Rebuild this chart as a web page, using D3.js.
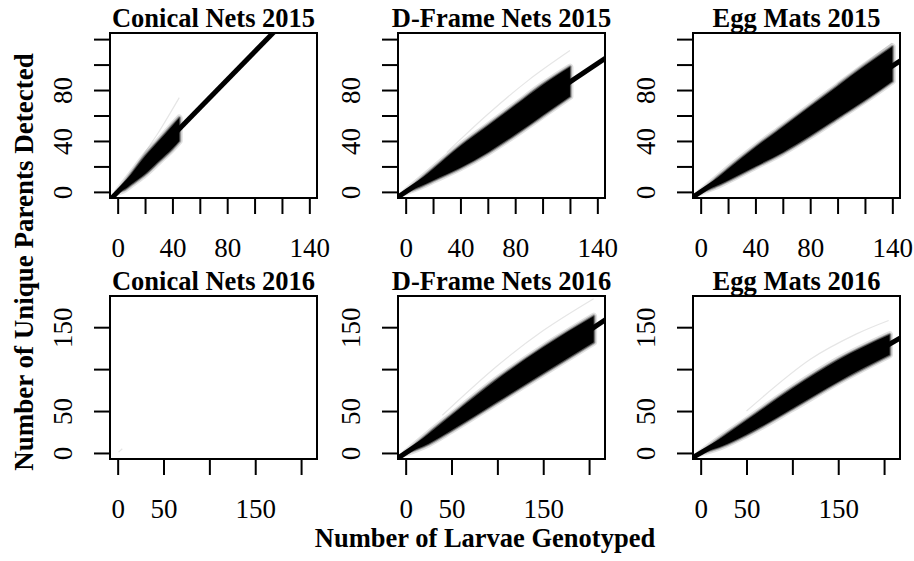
<!DOCTYPE html>
<html>
<head>
<meta charset="utf-8">
<script src="https://cdn.jsdelivr.net/npm/d3@7"></script>
<style>
  html, body { margin: 0; padding: 0; background: #fff; }
  svg { display: block; }
</style>
</head>
<body>
<svg id="chart" width="914" height="561"></svg>
<script>
// ---------------- DATA ----------------
const panelTitles = ["Conical Nets 2015", "D-Frame Nets 2015", "Egg Mats 2015",
                     "Conical Nets 2016", "D-Frame Nets 2016", "Egg Mats 2016"];

// axis limits (before R-style 4% expansion)
const xLim2015 = [0, 140];
const yLim2015 = [0, 120];
const xLim2016 = [0, 209];
const yLim2016 = [0, 180];

// ticks and tick labels
const xTicks2015 = [0, 20, 40, 60, 80, 100, 120, 140];
const xTickLabels2015 = [0, 40, 80, 140];
const yTicks2015 = [0, 20, 40, 60, 80, 100, 120];
const yTickLabels2015 = [0, 40, 80];
const xTicks2016 = [0, 50, 100, 150, 200];
const xTickLabels2016 = [0, 50, 150];
const yTicks2016 = [0, 50, 100, 150];
const yTickLabels2016 = [0, 50, 150];

// envelope of the bootstrap rarefaction curves (larvae genotyped -> upper / lower unique parents)
const conical2015X     = [0, 5, 10, 20, 30, 40, 45];
const conical2015Upper = [0, 7, 14, 28, 40, 52, 58];
const conical2015Lower = [0, 2, 6, 14, 24, 34, 40];

const dframe2015X     = [0, 10, 20, 40, 60, 80, 100, 120];
const dframe2015Upper = [0, 9, 18, 36, 52, 68, 84, 98];
const dframe2015Lower = [0, 4, 9, 19, 31, 45, 60, 75];

const egg2015X     = [0, 10, 20, 40, 60, 80, 100, 120, 140];
const egg2015Upper = [0, 9, 18, 35, 51, 67, 83, 99, 114];
const egg2015Lower = [0, 4, 9, 20, 31, 44, 58, 72, 87];

const conical2016X     = [];
const conical2016Upper = [];
const conical2016Lower = [];

const dframe2016X     = [0, 25, 50, 100, 150, 205];
const dframe2016Upper = [0, 23, 45, 88, 126, 163];
const dframe2016Lower = [0, 11, 27, 61, 95, 132];

const egg2016X     = [0, 25, 50, 100, 150, 206];
const egg2016Upper = [0, 20, 39, 77, 111, 141];
const egg2016Lower = [0, 9, 22, 53, 85, 117];

// slope of the thick expected-accumulation line through the origin
const lineSlopes = [1.10, 0.72, 0.706, null, 0.73, 0.63];

// faint outlying single curves [larvae, parents]
const conical2015Faint = [[10, 14], [20, 31], [30, 47], [45, 74]];
const dframe2015Faint  = [[30, 31], [60, 61], [90, 88], [120, 111]];
const egg2015Faint     = [[100, 85], [120, 101], [140, 117]];
const conical2016Faint = [[1, 1], [5, 5]];
const dframe2016Faint  = [[40, 45], [100, 104], [150, 146], [205, 184]];
const egg2016Faint     = [[50, 50], [120, 112], [170, 142], [205, 158]];

// ---------------- LAYOUT ----------------
const svg = d3.select("#chart");
const FONT = "'Liberation Serif', 'Times New Roman', Times, serif";
const colBoxes = [[110, 317], [398, 605], [693, 900]];
const rowBoxes = [[33, 198], [296, 459]];

function expand(lim) { const d = (lim[1] - lim[0]) * 0.04; return [lim[0] - d, lim[1] + d]; }

const panels = [
  { x: conical2015X, up: conical2015Upper, lo: conical2015Lower, faint: conical2015Faint },
  { x: dframe2015X,  up: dframe2015Upper,  lo: dframe2015Lower,  faint: dframe2015Faint },
  { x: egg2015X,     up: egg2015Upper,     lo: egg2015Lower,     faint: egg2015Faint },
  { x: conical2016X, up: conical2016Upper, lo: conical2016Lower, faint: conical2016Faint },
  { x: dframe2016X,  up: dframe2016Upper,  lo: dframe2016Lower,  faint: dframe2016Faint },
  { x: egg2016X,     up: egg2016Upper,     lo: egg2016Lower,     faint: egg2016Faint }
];

panels.forEach((p, i) => {
  const row = Math.floor(i / 3), col = i % 3;
  const [bx0, bx1] = colBoxes[col];
  const [by0, by1] = rowBoxes[row];
  const is2015 = row === 0;
  const x = d3.scaleLinear().domain(expand(is2015 ? xLim2015 : xLim2016)).range([bx0, bx1]);
  const y = d3.scaleLinear().domain(expand(is2015 ? yLim2015 : yLim2016)).range([by1, by0]);

  const g = svg.append("g");
  const clipId = "clip" + i;
  svg.append("clipPath").attr("id", clipId)
    .append("rect").attr("x", bx0).attr("y", by0).attr("width", bx1 - bx0).attr("height", by1 - by0);
  const plot = g.append("g").attr("clip-path", `url(#${clipId})`);

  // faint outlying curve
  plot.append("path")
    .datum(p.faint)
    .attr("d", d3.line().x(d => x(d[0])).y(d => y(d[1])).curve(d3.curveCatmullRom))
    .attr("fill", "none").attr("stroke", "#000").attr("stroke-opacity", 0.1).attr("stroke-width", 1.2);

  // band of curves (dense core with feathered edges)
  if (p.x.length) {
    const bandData = p.x.map((v, k) => ({ x: v, up: p.up[k], lo: p.lo[k] }));
    const area = d3.area().x(d => x(d.x)).y0(d => y(d.lo)).y1(d => y(d.up)).curve(d3.curveMonotoneX);
    [[7, 0.12], [4, 0.25], [2, 0.5]].forEach(([w, o]) => {
      plot.append("path").datum(bandData).attr("d", area)
        .attr("fill", "none").attr("stroke", "#000").attr("stroke-opacity", o)
        .attr("stroke-width", w).attr("stroke-linejoin", "round");
    });
    plot.append("path").datum(bandData).attr("d", area).attr("fill", "#000");
  }

  // thick expected line
  if (lineSlopes[i] !== null) {
    const xd = x.domain();
    plot.append("path")
      .datum([xd[0] - 10, xd[1] + 10].map(v => [v, v * lineSlopes[i]]))
      .attr("d", d3.line().x(d => x(d[0])).y(d => y(d[1])))
      .attr("fill", "none").attr("stroke", "#000").attr("stroke-width", 5);
  }

  // box
  g.append("rect").attr("x", bx0).attr("y", by0).attr("width", bx1 - bx0).attr("height", by1 - by0)
    .attr("fill", "none").attr("stroke", "#000").attr("stroke-width", 2);

  // x axis
  const xTicks = is2015 ? xTicks2015 : xTicks2016;
  const xLabels = is2015 ? xTickLabels2015 : xTickLabels2016;
  const xAxis = d3.axisBottom(x).tickValues(xTicks).tickSizeInner(16).tickSizeOuter(0)
    .tickFormat(d => xLabels.includes(d) ? String(d) : "");
  const xa = g.append("g").attr("transform", `translate(0,${by1})`).call(xAxis);
  xa.select(".domain").remove();
  xa.selectAll(".tick line").attr("stroke", "#000").attr("stroke-width", 2);
  xa.selectAll(".tick text").attr("y", 0).attr("dy", 0)
    .attr("transform", "translate(0,59)")
    .attr("font-family", FONT).attr("font-size", 27).attr("fill", "#000");

  // y axis
  const yTicks = is2015 ? yTicks2015 : yTicks2016;
  const yLabels = is2015 ? yTickLabels2015 : yTickLabels2016;
  const yAxis = d3.axisLeft(y).tickValues(yTicks).tickSizeInner(16).tickSizeOuter(0)
    .tickFormat(d => yLabels.includes(d) ? String(d) : "");
  const ya = g.append("g").attr("transform", `translate(${bx0},0)`).call(yAxis);
  ya.select(".domain").remove();
  ya.selectAll(".tick line").attr("stroke", "#000").attr("stroke-width", 2);
  ya.selectAll(".tick text").attr("x", 0).attr("dy", 0)
    .attr("transform", "translate(-38,0) rotate(-90)")
    .attr("text-anchor", "middle")
    .attr("font-family", FONT).attr("font-size", 27).attr("fill", "#000");

  // title
  g.append("text").attr("x", (bx0 + bx1) / 2).attr("y", by0 - 6)
    .attr("text-anchor", "middle").attr("font-family", FONT).attr("font-weight", "bold")
    .attr("font-size", 26.5).attr("fill", "#000").text(panelTitles[i]);
});

// axis titles
svg.append("text").attr("x", 485).attr("y", 547).attr("text-anchor", "middle")
  .attr("font-family", FONT).attr("font-weight", "bold").attr("font-size", 26.5)
  .text("Number of Larvae Genotyped");
svg.append("text").attr("transform", "translate(33,262) rotate(-90)").attr("text-anchor", "middle")
  .attr("font-family", FONT).attr("font-weight", "bold").attr("font-size", 27)
  .text("Number of Unique Parents Detected");
</script>
</body>
</html>
